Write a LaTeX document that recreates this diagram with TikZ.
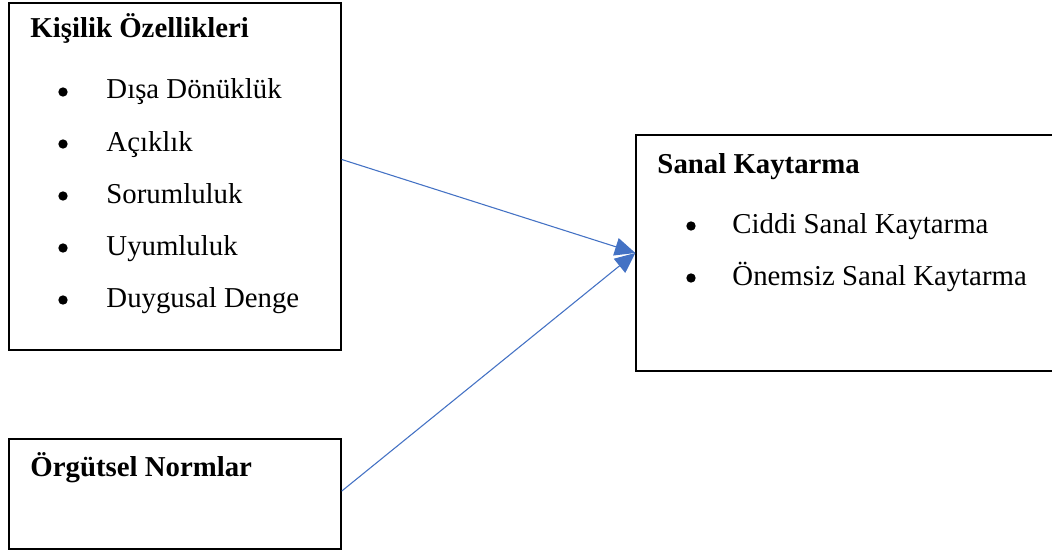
\documentclass[tikz,border=0pt]{standalone}
\usepackage{fontspec}
\setmainfont{Liberation Serif}
\usetikzlibrary{arrows.meta,fit}
\definecolor{linkblue}{RGB}{68,114,196}

\begin{document}
\begin{tikzpicture}[x=0.4167pt,y=-0.4167pt,font=\fontsize{12}{14}\selectfont,
    box/.style ={rectangle, draw, line width=0.55pt, inner sep=0pt},
    head/.style ={anchor=base west, inner sep=0pt, font=\fontsize{12}{14}\selectfont\bfseries},
    item/.style ={anchor=base west, inner sep=0pt},
    dot/.style ={circle, fill, inner sep=0pt, minimum size=3.9pt},
    link/.style ={draw=linkblue, line width=0.45pt, -{Triangle[length=8.5pt,width=7.5pt]}}]
   \useasboundingbox (0,0) rectangle (1052,554);

   \node[box, fit={(9,3) (341,350)}] (pers) {};
   \node[box, fit={(9,439) (341,549)}] (norm) {};
   \node[box, fit={(636,135) (1062,371)}] (sanal) {};

   \node[head] (persh) at (30,38) {Kişilik Özellikleri};
   \foreach \t [count=\i] in {Dışa Dönüklük, Açıklık, Sorumluluk, Uyumluluk, Duygusal Denge}
   {
     \node[dot] (pb\i) at (63,40+52*\i) {};
     \node[item] (p\i) at (106,47+52*\i) {\t};
   }

   \node[head] (normh) at (30,476) {Örgütsel Normlar};

   \node[head] (sanalh) at (657,173) {Sanal Kaytarma};
   \node[dot] (sb1) at (691,226) {};
   \node[item] (s1) at (732,233) {Ciddi Sanal Kaytarma};
   \node[dot] (sb2) at (691,278) {};
   \node[item] (s2) at (732,285) {Önemsiz Sanal Kaytarma};

   \draw[link] ([yshift=7.1pt]pers.east) -- (sanal.west);
   \draw[link] ([yshift=1.2pt]norm.east) -- (sanal.west);
 \end{tikzpicture}
\end{document}
